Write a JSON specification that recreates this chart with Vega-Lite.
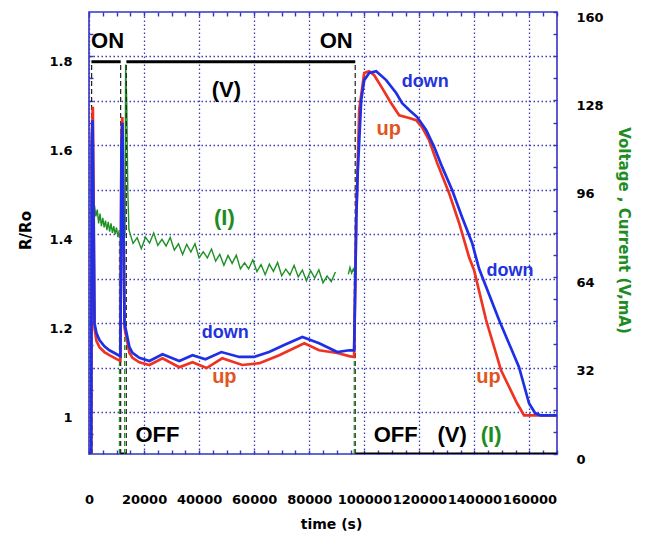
{
  "$schema": "https://vega.github.io/schema/vega-lite/v6.json",
  "width": 468,
  "height": 442,
  "autosize": {"type": "none"},
  "padding": {"left": 89, "top": 12, "right": 89, "bottom": 83},
  "background": "white",
  "config": {
    "view": {"stroke": "#3434c4", "strokeWidth": 1.6},
    "axis": {
      "domain": false,
      "labelFont": "DejaVu Sans",
      "labelFontWeight": "bold",
      "labelFontSize": 13,
      "labelColor": "black",
      "titleFont": "DejaVu Sans",
      "titleFontWeight": "bold",
      "titleFontSize": 15,
      "titleColor": "black",
      "tickColor": "#3434c4",
      "tickSize": -4,
      "tickWidth": 1.4,
      "gridColor": "#3c3cb4",
      "gridDash": [1.5, 2.5],
      "gridWidth": 1.3,
      "labelOverlap": false,
      "labelBound": false,
      "labelFlush": false
    }
  },
  "resolve": {"scale": {"y": "independent"}, "axis": {"x": "independent"}},
  "datasets": {
    "down": [
      {"t": 0, "r": 0.91}, {"t": 800, "r": 0.91}, {"t": 1000, "r": 1.6}, {"t": 1300, "r": 1.656},
      {"t": 1650, "r": 1.45}, {"t": 2000, "r": 1.2}, {"t": 2700, "r": 1.178}, {"t": 3800, "r": 1.162},
      {"t": 5600, "r": 1.148}, {"t": 7400, "r": 1.139}, {"t": 9250, "r": 1.133}, {"t": 10700, "r": 1.128},
      {"t": 11400, "r": 1.126}, {"t": 11800, "r": 1.6}, {"t": 12150, "r": 1.65}, {"t": 12500, "r": 1.45},
      {"t": 12900, "r": 1.2}, {"t": 14700, "r": 1.146}, {"t": 15800, "r": 1.133}, {"t": 18300, "r": 1.122},
      {"t": 21950, "r": 1.115}, {"t": 26700, "r": 1.13}, {"t": 32800, "r": 1.115}, {"t": 37600, "r": 1.128},
      {"t": 42300, "r": 1.119}, {"t": 48100, "r": 1.135}, {"t": 54600, "r": 1.124}, {"t": 60000, "r": 1.124},
      {"t": 65400, "r": 1.135}, {"t": 70900, "r": 1.151}, {"t": 77500, "r": 1.169}, {"t": 83600, "r": 1.155},
      {"t": 90200, "r": 1.135}, {"t": 94500, "r": 1.139}, {"t": 96300, "r": 1.139}, {"t": 96750, "r": 1.3},
      {"t": 97065, "r": 1.431}, {"t": 97600, "r": 1.537}, {"t": 98880, "r": 1.701}, {"t": 99970, "r": 1.746},
      {"t": 101780, "r": 1.762}, {"t": 104320, "r": 1.766}, {"t": 107950, "r": 1.746}, {"t": 111580, "r": 1.717},
      {"t": 113760, "r": 1.694}, {"t": 116300, "r": 1.679}, {"t": 119200, "r": 1.663}, {"t": 122460, "r": 1.634},
      {"t": 125370, "r": 1.596}, {"t": 128270, "r": 1.551}, {"t": 131900, "r": 1.499}, {"t": 135530, "r": 1.438},
      {"t": 139160, "r": 1.38}, {"t": 141700, "r": 1.322}, {"t": 148950, "r": 1.207}, {"t": 156210, "r": 1.101},
      {"t": 159840, "r": 1.02}, {"t": 162020, "r": 0.998}, {"t": 164000, "r": 0.993}, {"t": 170000, "r": 0.993}
    ],
    "up": [
      {"t": 0, "r": 0.91}, {"t": 800, "r": 0.91}, {"t": 1000, "r": 1.62}, {"t": 1400, "r": 1.686},
      {"t": 1700, "r": 1.45}, {"t": 2000, "r": 1.19}, {"t": 2700, "r": 1.16}, {"t": 3800, "r": 1.146},
      {"t": 5600, "r": 1.135}, {"t": 7400, "r": 1.128}, {"t": 9250, "r": 1.122}, {"t": 10700, "r": 1.117},
      {"t": 11400, "r": 1.116}, {"t": 11800, "r": 1.63}, {"t": 12100, "r": 1.663}, {"t": 12500, "r": 1.45},
      {"t": 12900, "r": 1.19}, {"t": 14700, "r": 1.133}, {"t": 15800, "r": 1.122}, {"t": 18300, "r": 1.112},
      {"t": 21950, "r": 1.106}, {"t": 26700, "r": 1.121}, {"t": 32800, "r": 1.101}, {"t": 37600, "r": 1.112},
      {"t": 42700, "r": 1.099}, {"t": 48400, "r": 1.121}, {"t": 55700, "r": 1.106}, {"t": 61900, "r": 1.11},
      {"t": 69100, "r": 1.128}, {"t": 78200, "r": 1.155}, {"t": 83600, "r": 1.139}, {"t": 90200, "r": 1.133},
      {"t": 94500, "r": 1.126}, {"t": 96300, "r": 1.124}, {"t": 96750, "r": 1.3}, {"t": 97065, "r": 1.431},
      {"t": 98150, "r": 1.679}, {"t": 99970, "r": 1.762}, {"t": 101780, "r": 1.766}, {"t": 103600, "r": 1.757},
      {"t": 106500, "r": 1.728}, {"t": 109760, "r": 1.694}, {"t": 112670, "r": 1.667}, {"t": 116300, "r": 1.661},
      {"t": 118840, "r": 1.656}, {"t": 121010, "r": 1.64}, {"t": 123550, "r": 1.611}, {"t": 126460, "r": 1.56},
      {"t": 130810, "r": 1.492}, {"t": 134440, "r": 1.425}, {"t": 138070, "r": 1.348}, {"t": 139880, "r": 1.319},
      {"t": 144240, "r": 1.207}, {"t": 149680, "r": 1.094}, {"t": 155480, "r": 1.02}, {"t": 158020, "r": 0.993},
      {"t": 170000, "r": 0.993}
    ],
    "volt": [
      {"t": 0, "v": 0, "seg": "a"}, {"t": 900, "v": 0, "seg": "a"},
      {"t": 900, "v": 142, "seg": "b"}, {"t": 11500, "v": 142, "seg": "b"},
      {"t": 11500, "v": 0, "seg": "c"}, {"t": 13500, "v": 0, "seg": "c"},
      {"t": 13600, "v": 142, "seg": "d"}, {"t": 96700, "v": 142, "seg": "d"},
      {"t": 96700, "v": 0, "seg": "e"}, {"t": 170000, "v": 0, "seg": "e"}
    ],
    "curr": [
      {"t": 0, "i": 0, "seg": "a"}, {"t": 900, "i": 0, "seg": "a"},
      {"t": 1100, "i": 89.5, "seg": "b"}, {"t": 1500, "i": 85, "seg": "b"}, {"t": 2000, "i": 90, "seg": "b"},
      {"t": 2500, "i": 86, "seg": "b"}, {"t": 3000, "i": 88.5, "seg": "b"}, {"t": 3500, "i": 83.5, "seg": "b"},
      {"t": 4000, "i": 87, "seg": "b"}, {"t": 4500, "i": 82.5, "seg": "b"}, {"t": 5000, "i": 85.5, "seg": "b"},
      {"t": 5500, "i": 82, "seg": "b"}, {"t": 6000, "i": 84.5, "seg": "b"}, {"t": 6500, "i": 81, "seg": "b"},
      {"t": 7000, "i": 84, "seg": "b"}, {"t": 7500, "i": 80.5, "seg": "b"}, {"t": 8000, "i": 83.5, "seg": "b"},
      {"t": 8500, "i": 80, "seg": "b"}, {"t": 9000, "i": 82.5, "seg": "b"}, {"t": 9500, "i": 79.5, "seg": "b"},
      {"t": 10000, "i": 82, "seg": "b"}, {"t": 10500, "i": 78.5, "seg": "b"}, {"t": 11000, "i": 81, "seg": "b"},
      {"t": 11100, "i": 0, "seg": "c"}, {"t": 12900, "i": 0, "seg": "c"},
      {"t": 13100, "i": 80, "seg": "d"}, {"t": 13300, "i": 141, "seg": "d"}, {"t": 13700, "i": 128, "seg": "d"},
      {"t": 14100, "i": 95, "seg": "d"}, {"t": 14500, "i": 81.2, "seg": "d"}, {"t": 16000, "i": 76.2, "seg": "d"},
      {"t": 17500, "i": 78.3, "seg": "d"}, {"t": 19000, "i": 74.3, "seg": "d"}, {"t": 20500, "i": 78.5, "seg": "d"},
      {"t": 22000, "i": 76.4, "seg": "d"}, {"t": 23500, "i": 80, "seg": "d"}, {"t": 25000, "i": 75.5, "seg": "d"},
      {"t": 26500, "i": 77.7, "seg": "d"}, {"t": 28000, "i": 75.3, "seg": "d"}, {"t": 29500, "i": 78.4, "seg": "d"},
      {"t": 31000, "i": 73.8, "seg": "d"}, {"t": 32500, "i": 76.1, "seg": "d"}, {"t": 34000, "i": 72.2, "seg": "d"},
      {"t": 35500, "i": 75.9, "seg": "d"}, {"t": 37000, "i": 73.1, "seg": "d"}, {"t": 38500, "i": 76.1, "seg": "d"},
      {"t": 40000, "i": 71, "seg": "d"}, {"t": 41500, "i": 73.2, "seg": "d"}, {"t": 43000, "i": 71, "seg": "d"},
      {"t": 44500, "i": 74.2, "seg": "d"}, {"t": 46000, "i": 69.8, "seg": "d"}, {"t": 47500, "i": 72.3, "seg": "d"},
      {"t": 49000, "i": 68.3, "seg": "d"}, {"t": 50500, "i": 71.9, "seg": "d"}, {"t": 52000, "i": 69, "seg": "d"},
      {"t": 53500, "i": 72, "seg": "d"}, {"t": 55000, "i": 67, "seg": "d"}, {"t": 56500, "i": 69.2, "seg": "d"},
      {"t": 58000, "i": 67, "seg": "d"}, {"t": 59500, "i": 70.3, "seg": "d"}, {"t": 61000, "i": 66, "seg": "d"},
      {"t": 62500, "i": 68.6, "seg": "d"}, {"t": 64000, "i": 64.9, "seg": "d"}, {"t": 65500, "i": 68.7, "seg": "d"},
      {"t": 67000, "i": 66.1, "seg": "d"}, {"t": 68500, "i": 69.3, "seg": "d"}, {"t": 70000, "i": 64.5, "seg": "d"},
      {"t": 71500, "i": 66.9, "seg": "d"}, {"t": 73000, "i": 64.8, "seg": "d"}, {"t": 74500, "i": 68.3, "seg": "d"},
      {"t": 76000, "i": 64.1, "seg": "d"}, {"t": 77500, "i": 66.6, "seg": "d"}, {"t": 79000, "i": 62.7, "seg": "d"},
      {"t": 80500, "i": 66.4, "seg": "d"}, {"t": 82000, "i": 63.7, "seg": "d"}, {"t": 83500, "i": 66.7, "seg": "d"},
      {"t": 85000, "i": 62, "seg": "d"}, {"t": 86500, "i": 64.4, "seg": "d"}, {"t": 88000, "i": 62.4, "seg": "d"},
      {"t": 89500, "i": 65.9, "seg": "d"},
      {"t": 94200, "i": 65, "seg": "e"}, {"t": 94800, "i": 67.5, "seg": "e"}, {"t": 95400, "i": 65.5, "seg": "e"},
      {"t": 96000, "i": 67, "seg": "e"}, {"t": 96350, "i": 66, "seg": "e"},
      {"t": 96400, "i": 0, "seg": "f"}, {"t": 170000, "i": 0, "seg": "f"}
    ],
    "jumps": [
      {"t": 950, "lo": 0, "hi": 142, "s": "V"}, {"t": 11500, "lo": 0, "hi": 142, "s": "V"},
      {"t": 13550, "lo": 0, "hi": 142, "s": "V"}, {"t": 96700, "lo": 0, "hi": 142, "s": "V"},
      {"t": 1150, "lo": 0, "hi": 89, "s": "I"}, {"t": 11050, "lo": 0, "hi": 81, "s": "I"},
      {"t": 12950, "lo": 0, "hi": 80, "s": "I"}, {"t": 96350, "lo": 0, "hi": 66, "s": "I"}
    ],
    "notes": [
      {"t": 6750, "r": 1.818, "label": "ON", "g": "state"},
      {"t": 89800, "r": 1.818, "label": "ON", "g": "state"},
      {"t": 49900, "r": 1.708, "label": "(V)", "g": "state"},
      {"t": 24860, "r": 0.933, "label": "OFF", "g": "state"},
      {"t": 111400, "r": 0.933, "label": "OFF", "g": "state"},
      {"t": 131900, "r": 0.933, "label": "(V)", "g": "state"},
      {"t": 49170, "r": 1.42, "label": "(I)", "g": "I"},
      {"t": 146050, "r": 0.933, "label": "(I)", "g": "I"},
      {"t": 49530, "r": 1.166, "label": "down", "g": "down"},
      {"t": 122100, "r": 1.73, "label": "down", "g": "down"},
      {"t": 152950, "r": 1.306, "label": "down", "g": "down"},
      {"t": 49170, "r": 1.065, "label": "up", "g": "up"},
      {"t": 108860, "r": 1.622, "label": "up", "g": "up"},
      {"t": 145150, "r": 1.065, "label": "up", "g": "up"}
    ]
  },
  "layer": [
    {
      "data": {"name": "curr"},
      "mark": {"type": "line", "color": "#1f9124", "strokeWidth": 1.4, "clip": true},
      "encoding": {
        "x": {"field": "t", "type": "quantitative", "scale": {"domain": [0, 170000], "nice": false, "zero": false}, "axis": null},
        "y": {"field": "i", "type": "quantitative", "scale": {"domain": [0, 160], "nice": false}, "axis": null},
        "detail": {"field": "seg"}
      }
    },
    {
      "data": {"name": "volt"},
      "mark": {"type": "line", "color": "black", "strokeWidth": 3, "clip": true},
      "encoding": {
        "x": {"field": "t", "type": "quantitative", "scale": {"domain": [0, 170000], "nice": false, "zero": false}, "axis": null},
        "y": {
          "field": "v", "type": "quantitative", "scale": {"domain": [0, 160], "nice": false},
          "axis": {
            "orient": "right",
            "values": [0, 8, 16, 24, 32, 40, 48, 56, 64, 72, 80, 88, 96, 104, 112, 120, 128, 136, 144, 152, 160],
            "labelExpr": "datum.value % 32 == 0 ? format(datum.value, 'd') : ''",
            "labelPadding": 23,
            "labelOffset": 5,
            "grid": false,
            "title": "Voltage , Current (V,mA)",
            "titleColor": "#1e8c1e",
            "titleX": 66,
            "titleY": 218,
            "titleBaseline": "middle"
          }
        },
        "detail": {"field": "seg"}
      }
    },
    {
      "data": {"name": "jumps"},
      "transform": [{"filter": "datum.s == 'V'"}],
      "mark": {"type": "rule", "color": "#222222", "strokeWidth": 1.2, "strokeDash": [5, 3]},
      "encoding": {
        "x": {"field": "t", "type": "quantitative", "scale": {"domain": [0, 170000], "nice": false, "zero": false}, "axis": null},
        "y": {"field": "lo", "type": "quantitative", "scale": {"domain": [0, 160], "nice": false}, "axis": null},
        "y2": {"field": "hi"}
      }
    },
    {
      "data": {"name": "jumps"},
      "transform": [{"filter": "datum.s == 'I'"}],
      "mark": {"type": "rule", "color": "#1f9124", "strokeWidth": 1.2, "strokeDash": [5, 3]},
      "encoding": {
        "x": {"field": "t", "type": "quantitative", "scale": {"domain": [0, 170000], "nice": false, "zero": false}, "axis": null},
        "y": {"field": "lo", "type": "quantitative", "scale": {"domain": [0, 160], "nice": false}, "axis": null},
        "y2": {"field": "hi"}
      }
    },
    {
      "data": {"name": "up"},
      "mark": {"type": "line", "color": "#ee3322", "strokeWidth": 2.7, "clip": true},
      "encoding": {
        "x": {
          "field": "t", "type": "quantitative", "scale": {"domain": [0, 170000], "nice": false, "zero": false},
          "axis": {
            "orient": "top",
            "values": [0, 5000, 10000, 15000, 20000, 25000, 30000, 35000, 40000, 45000, 50000, 55000, 60000, 65000, 70000, 75000, 80000, 85000, 90000, 95000, 100000, 105000, 110000, 115000, 120000, 125000, 130000, 135000, 140000, 145000, 150000, 155000, 160000, 165000, 170000],
            "labels": false,
            "grid": false,
            "title": null
          }
        },
        "y": {"field": "r", "type": "quantitative", "scale": {"domain": [0.906, 1.899], "nice": false, "zero": false}, "axis": null}
      }
    },
    {
      "data": {"name": "down"},
      "mark": {"type": "line", "color": "#1f2fe6", "strokeWidth": 2.7, "clip": true},
      "encoding": {
        "x": {
          "field": "t", "type": "quantitative", "scale": {"domain": [0, 170000], "nice": false, "zero": false},
          "axis": {
            "orient": "bottom",
            "values": [0, 5000, 10000, 15000, 20000, 25000, 30000, 35000, 40000, 45000, 50000, 55000, 60000, 65000, 70000, 75000, 80000, 85000, 90000, 95000, 100000, 105000, 110000, 115000, 120000, 125000, 130000, 135000, 140000, 145000, 150000, 155000, 160000, 165000, 170000],
            "labelExpr": "datum.value % 20000 == 0 && datum.value <= 160000 ? format(datum.value, 'd') : ''",
            "labelPadding": 43,
            "grid": true,
            "gridOpacity": {"condition": {"test": "datum.value % 20000 == 0", "value": 1}, "value": 0},
            "title": "time (s)",
            "titleFontSize": 14,
            "titleX": 242,
            "titleY": 74,
            "titleBaseline": "alphabetic"
          }
        },
        "y": {
          "field": "r", "type": "quantitative", "scale": {"domain": [0.906, 1.899], "nice": false, "zero": false},
          "axis": {
            "orient": "left",
            "values": [0.95, 1, 1.05, 1.1, 1.15, 1.2, 1.25, 1.3, 1.35, 1.4, 1.45, 1.5, 1.55, 1.6, 1.65, 1.7, 1.75, 1.8, 1.85],
            "labelExpr": "indexof([1, 1.2, 1.4, 1.6, 1.8], datum.value) >= 0 ? format(datum.value, '~g') : ''",
            "labelPadding": 21,
            "labelOffset": 5,
            "grid": true,
            "gridOpacity": {"condition": {"test": "indexof([1, 1.1, 1.2, 1.3, 1.4, 1.5, 1.6, 1.7, 1.8], datum.value) >= 0", "value": 1}, "value": 0},
            "title": "R/Ro",
            "titleX": -64,
            "titleY": 218,
            "titleBaseline": "middle"
          }
        }
      }
    },
    {
      "data": {"name": "notes"},
      "transform": [{"filter": "datum.g == 'state'"}],
      "mark": {"type": "text", "font": "Liberation Sans", "fontWeight": "bold", "fontSize": 22, "color": "black", "baseline": "alphabetic", "align": "center"},
      "encoding": {
        "x": {"field": "t", "type": "quantitative", "scale": {"domain": [0, 170000], "nice": false, "zero": false}, "axis": null},
        "y": {"field": "r", "type": "quantitative", "scale": {"domain": [0.906, 1.899], "nice": false, "zero": false}, "axis": null},
        "text": {"field": "label"}
      }
    },
    {
      "data": {"name": "notes"},
      "transform": [{"filter": "datum.g == 'I'"}],
      "mark": {"type": "text", "font": "Liberation Sans", "fontWeight": "bold", "fontSize": 22, "color": "#1e8c1e", "baseline": "alphabetic", "align": "center"},
      "encoding": {
        "x": {"field": "t", "type": "quantitative", "scale": {"domain": [0, 170000], "nice": false, "zero": false}, "axis": null},
        "y": {"field": "r", "type": "quantitative", "scale": {"domain": [0.906, 1.899], "nice": false, "zero": false}, "axis": null},
        "text": {"field": "label"}
      }
    },
    {
      "data": {"name": "notes"},
      "transform": [{"filter": "datum.g == 'down'"}],
      "mark": {"type": "text", "font": "Liberation Sans", "fontWeight": "bold", "fontSize": 18, "color": "#2233dd", "baseline": "alphabetic", "align": "center"},
      "encoding": {
        "x": {"field": "t", "type": "quantitative", "scale": {"domain": [0, 170000], "nice": false, "zero": false}, "axis": null},
        "y": {"field": "r", "type": "quantitative", "scale": {"domain": [0.906, 1.899], "nice": false, "zero": false}, "axis": null},
        "text": {"field": "label"}
      }
    },
    {
      "data": {"name": "notes"},
      "transform": [{"filter": "datum.g == 'up'"}],
      "mark": {"type": "text", "font": "Liberation Sans", "fontWeight": "bold", "fontSize": 20, "color": "#e0561e", "baseline": "alphabetic", "align": "center"},
      "encoding": {
        "x": {"field": "t", "type": "quantitative", "scale": {"domain": [0, 170000], "nice": false, "zero": false}, "axis": null},
        "y": {"field": "r", "type": "quantitative", "scale": {"domain": [0.906, 1.899], "nice": false, "zero": false}, "axis": null},
        "text": {"field": "label"}
      }
    }
  ]
}
